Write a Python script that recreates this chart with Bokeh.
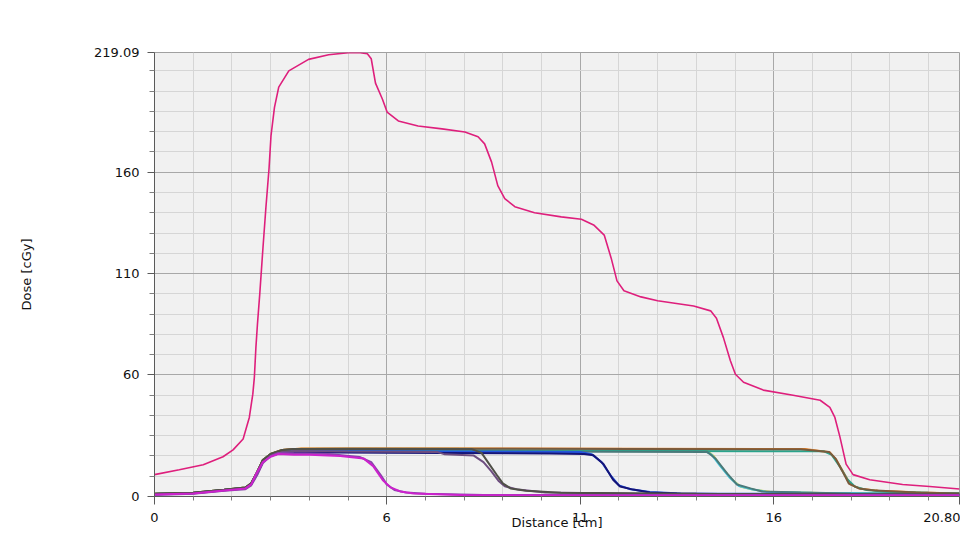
from bokeh.plotting import figure
from bokeh.models import FixedTicker, Range1d
from bokeh.embed import file_html
from bokeh.resources import INLINE

# ---- axis ticks ----
X_TICKS = [0, 6, 11, 16, 20.8]
X_TICK_LABELS = ["0", "6", "11", "16", "20.80"]
X_MINOR = [1, 2, 3, 4, 5, 7, 8, 9, 10, 12, 13, 14, 15, 17, 18, 19, 20]
Y_TICKS = [0, 60, 110, 160, 219.09]
Y_TICK_LABELS = ["0", "60", "110", "160", "219.09"]
Y_MINOR = [10, 20, 30, 40, 50, 70, 80, 90, 100, 120, 130, 140, 150, 170, 180, 190, 200, 210]

# ---- total dose (pink) ----
total_x = [0, 0.64, 1.26, 1.77, 2.03, 2.29, 2.45, 2.54, 2.58, 2.62, 2.66, 2.72, 2.8, 2.88,
           2.96, 3.01, 3.1, 3.21, 3.47, 3.98, 4.5, 5.01, 5.27, 5.5, 5.6, 5.71, 5.89, 6.01,
           6.3, 6.81, 7.43, 8.02, 8.36, 8.53, 8.71, 8.87, 9.05, 9.31, 9.82, 10.51, 11.03,
           11.36, 11.62, 11.8, 11.95, 12.13, 12.57, 13.0, 13.93, 14.37, 14.52, 14.7, 14.88,
           15.01, 15.22, 15.73, 16.5, 17.2, 17.45, 17.58, 17.71, 17.87, 18.05, 18.48, 19.33,
           20.03, 20.8]
total_y = [10.8, 13.2, 15.7, 19.6, 23, 28.4, 39, 50.5, 58.8, 73.5, 85, 100, 122, 143,
           162, 178, 192, 202, 210, 215.7, 218, 219, 219.09, 218.5, 216, 204, 196, 189.7,
           185.3, 182.8, 181.4, 179.9, 177.5, 174, 165, 153.4, 147, 143, 140, 138, 136.8,
           133.8, 129, 117.6, 106.4, 101.5, 98.5, 96.6, 94, 91.6, 88, 78.4, 67,
           60.3, 56.4, 52.5, 50, 47.5, 44, 39, 29.4, 16, 10.8, 8.3, 5.9,
           4.9, 3.7]

# ---- individual beam profiles ----
yellow_x = [0, 1.0, 1.8, 2.35, 2.5, 2.65, 2.8, 3.0, 3.3, 3.8, 8.0, 14.25, 14.45, 14.65, 14.9, 15.15, 15.5, 15.9, 17.2, 20.8]
yellow_y = [1.3, 1.8, 3.3, 4.4, 6.5, 12.0, 18.0, 21.0, 23.0, 23.6, 23.6, 22.9, 20.0, 14.5, 8.8, 4.8, 3.3, 2.3, 1.7, 1.3]

orange_x = [0, 1.0, 1.8, 2.35, 2.5, 2.65, 2.8, 3.0, 3.3, 3.8, 9.0, 16.8, 17.45, 17.62, 17.8, 17.98, 18.25, 18.7, 19.8, 20.8]
orange_y = [1.3, 1.8, 3.3, 4.4, 6.5, 12.0, 18.0, 21.0, 23.0, 23.7, 23.7, 23.4, 21.8, 18.0, 12.0, 6.0, 3.8, 2.8, 2.0, 1.5]

cyan_x = [0, 1.0, 1.8, 2.35, 2.5, 2.65, 2.8, 3.0, 3.3, 3.6, 8.0, 14.2, 14.4, 14.6, 14.85, 15.1, 15.45, 15.8, 17.0, 20.8]
cyan_y = [1.3, 1.8, 3.3, 4.4, 6.5, 12.0, 18.0, 21.0, 22.8, 23.1, 23.2, 22.8, 20.5, 15.5, 9.5, 5.2, 3.5, 2.4, 1.8, 1.4]

teal_x = [0, 1.0, 1.8, 2.35, 2.5, 2.65, 2.8, 3.0, 3.3, 3.6, 9.0, 17.3, 17.5, 17.7, 17.9, 18.1, 18.4, 18.9, 20.0, 20.8]
teal_y = [1.2, 1.7, 3.2, 4.3, 6.3, 11.5, 17.5, 20.5, 22.2, 22.5, 22.6, 22.3, 20.5, 15.0, 8.5, 4.8, 3.2, 2.4, 1.8, 1.6]

slate_x = [0, 1.0, 1.8, 2.35, 2.5, 2.65, 2.8, 3.0, 3.3, 3.6, 8.0, 14.27, 14.35, 14.5, 14.8, 15.05, 15.4, 15.7, 16.7, 18.0, 20.8]
slate_y = [1.2, 1.7, 3.2, 4.3, 6.3, 11.5, 17.5, 20.5, 22.0, 22.3, 22.2, 22.0, 21.0, 18.6, 11.3, 5.9, 4.0, 2.5, 2.0, 1.5, 1.3]

blue_x = [0, 1.0, 1.8, 2.35, 2.5, 2.65, 2.8, 3.0, 3.25, 3.6, 6.0, 11.0, 11.3, 11.55, 11.8, 12.0, 12.3, 12.8, 13.6, 20.8]
blue_y = [1.2, 1.7, 3.2, 4.3, 6.3, 11.5, 17.5, 20.5, 22.0, 22.3, 22.3, 22.0, 20.8, 17.0, 10.0, 5.5, 3.6, 2.2, 1.5, 0.9]

navy_x = [0, 1.0, 1.8, 2.35, 2.5, 2.65, 2.8, 3.0, 3.25, 3.6, 6.0, 10.2, 11.1, 11.34, 11.6, 11.85, 12.03, 12.37, 12.8, 13.5, 15.7, 16.0, 20.8]
navy_y = [1.1, 1.6, 3.1, 4.1, 6.1, 11.0, 17.0, 20.0, 21.5, 21.8, 21.6, 21.2, 21.0, 20.4, 16.0, 8.3, 4.9, 3.4, 2.0, 1.5, 1.0, 0.8, 0.6]

grape_x = [0, 1.0, 1.8, 2.35, 2.5, 2.65, 2.8, 3.0, 3.25, 3.6, 5.0, 7.3, 7.5, 8.25, 8.5, 8.7, 8.9, 9.05, 9.4, 10.1, 13.0, 20.8]
grape_y = [1.2, 1.6, 3.2, 4.2, 6.2, 11.5, 17.5, 20.5, 22.0, 22.5, 22.2, 22.0, 20.8, 20.2, 17.0, 12.5, 7.5, 5.0, 3.4, 2.0, 1.2, 1.0]

brown_x = [0, 1.0, 1.8, 2.35, 2.5, 2.65, 2.8, 3.0, 3.3, 3.6, 9.0, 16.7, 17.43, 17.6, 17.76, 17.94, 18.2, 18.64, 19.67, 20.8]
brown_y = [1.3, 1.8, 3.3, 4.4, 6.5, 12.0, 18.0, 21.0, 23.0, 23.5, 23.6, 23.3, 22.0, 18.6, 13.0, 6.4, 4.0, 2.9, 2.0, 1.5]

olive_x = [0, 1.0, 1.8, 2.35, 2.5, 2.65, 2.8, 3.0, 3.3, 3.6, 5.0, 8.2, 8.45, 8.65, 8.85, 9.0, 9.2, 9.6, 10.5, 14.0, 20.8]
olive_y = [1.3, 1.8, 3.3, 4.4, 6.5, 12.0, 18.0, 21.0, 23.0, 23.5, 23.6, 23.4, 21.5, 16.0, 10.5, 6.5, 4.0, 2.8, 1.8, 1.3, 1.0]

purple_x = [0, 1.0, 1.8, 2.35, 2.5, 2.65, 2.8, 3.0, 3.2, 3.6, 4.5, 5.3, 5.6, 5.85, 6.0, 6.2, 6.5, 7.0, 8.5, 20.8]
purple_y = [0.8, 1.3, 2.8, 3.6, 5.5, 10.5, 16.5, 20.0, 21.5, 21.3, 21.0, 19.5, 17.0, 10.5, 6.0, 3.2, 2.0, 1.3, 0.8, 0.7]

magenta_x = [0, 1.0, 1.8, 2.35, 2.5, 2.62, 2.8, 3.0, 3.2, 3.6, 4.0, 4.8, 5.4, 5.65, 5.9, 6.1, 6.35, 6.7, 8.1, 12.0, 20.8]
magenta_y = [1.0, 1.5, 3.0, 4.0, 6.0, 11.0, 17.0, 19.6, 21.0, 20.6, 20.6, 20.0, 18.8, 15.0, 8.0, 4.5, 2.5, 1.5, 0.6, 0.5, 0.5]

beams = [
    (yellow_x, yellow_y, "#d4d040"),
    (orange_x, orange_y, "#ee8020"),
    (cyan_x, cyan_y, "#44c4dc"),
    (teal_x, teal_y, "#2aa48c"),
    (slate_x, slate_y, "#4a7a7a"),
    (blue_x, blue_y, "#2255dd"),
    (navy_x, navy_y, "#141478"),
    (grape_x, grape_y, "#6e4e80"),
    (brown_x, brown_y, "#7a5a3c"),
    (olive_x, olive_y, "#505048"),
    (purple_x, purple_y, "#8844aa"),
    (magenta_x, magenta_y, "#cc22cc"),
]

FONT = "DejaVu Sans"

p = figure(width=960, height=534, output_backend="svg", toolbar_location=None,
           x_range=Range1d(0, 20.8), y_range=Range1d(0, 219.09),
           min_border_left=154, min_border_right=1, min_border_top=52, min_border_bottom=38)
p.background_fill_color = "#f1f1f1"
p.border_fill_color = "white"
p.outline_line_color = "#a0a0a0"

p.xaxis.ticker = FixedTicker(ticks=X_TICKS, minor_ticks=X_MINOR)
p.yaxis.ticker = FixedTicker(ticks=Y_TICKS, minor_ticks=Y_MINOR)
p.xaxis.major_label_overrides = dict(zip(X_TICKS, X_TICK_LABELS))
p.yaxis.major_label_overrides = dict(zip(Y_TICKS, Y_TICK_LABELS))

for ax in (p.xaxis[0], p.yaxis[0]):
    ax.axis_line_color = "#5a5a5a"
    ax.major_tick_line_color = "#5a5a5a"
    ax.minor_tick_line_color = "#808080"
    ax.major_tick_in = 0
    ax.minor_tick_in = 0
    ax.major_label_text_font = FONT
    ax.major_label_text_font_size = "13px"
    ax.major_label_text_color = "#111111"
    ax.axis_label_text_font = FONT
    ax.axis_label_text_font_size = "13px"
    ax.axis_label_text_font_style = "normal"
    ax.axis_label_text_color = "#111111"

p.xaxis.major_tick_out = 8
p.xaxis.minor_tick_out = 4
p.xaxis.major_label_standoff = 8
p.xaxis.axis_label = "Distance [cm]"
p.xaxis.axis_label_standoff = -10

p.yaxis.major_tick_out = 7
p.yaxis.minor_tick_out = 5
p.yaxis.major_label_standoff = 8
p.yaxis.axis_label = "Dose [cGy]"
p.yaxis.axis_label_standoff = 57

for g in (p.xgrid[0], p.ygrid[0]):
    g.grid_line_color = "#a8a8a8"
    g.minor_grid_line_color = "#d6d6d6"

for bx, by, col in beams:
    p.line(bx, by, line_color=col, line_width=2)

p.line(total_x, total_y, line_color="#de1f7c", line_width=1.6)

open("out.html", "w").write(file_html(p, INLINE))
